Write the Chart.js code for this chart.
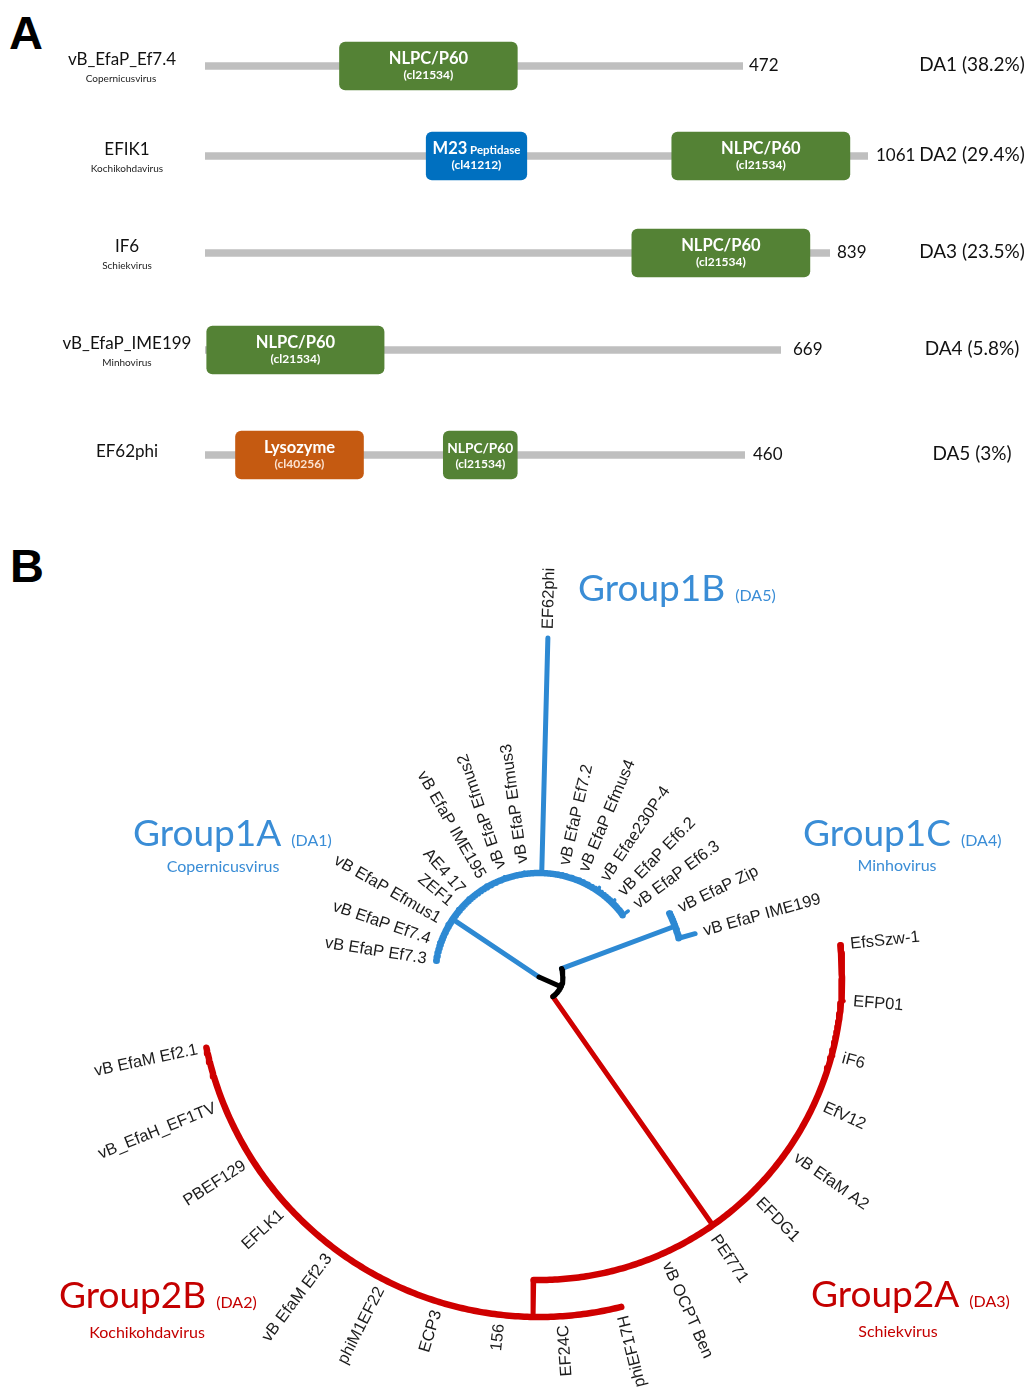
<!DOCTYPE html>
<html>
<head>
<meta charset="utf-8">
<title>Endolysin domain architectures and phylogeny</title>
<script src="https://cdn.jsdelivr.net/npm/chart.js@4.4.1/dist/chart.umd.min.js"></script>
<style>
  html, body { margin: 0; padding: 0; background: #ffffff; }
  #page { position: relative; width: 1028px; height: 1393px; overflow: hidden; background: #ffffff; }
  #page canvas { position: absolute; left: 0; }
  .panel-letter { position: absolute; font: bold 47px "Liberation Sans", Arial, sans-serif; line-height: 1; color: #000; }
</style>
</head>
<body>
<div id="page">
  <div class="panel-letter" style="left:9px; top:9px;">A</div>
  <div class="panel-letter" style="left:10px; top:542px;">B</div>
</div>
<script>
// ---------------- Panel A: domain architectures ----------------
const proteinNames = ['vB_EfaP_Ef7.4', 'EFIK1', 'IF6', 'vB_EfaP_IME199', 'EF62phi'];
const proteinGenera = ['Copernicusvirus', 'Kochikohdavirus', 'Schiekvirus', 'Minhovirus', ''];
const proteinLengths = [472, 1061, 839, 669, 460];
const architectureLabels = ['DA1 (38.2%)', 'DA2 (29.4%)', 'DA3 (23.5%)', 'DA4 (5.8%)', 'DA5 (3%)'];

// one entry per domain (residue coordinates)
const domainProtein = [0, 1, 1, 2, 3, 4, 4];
const domainNames = ['NLPC/P60', 'M23 Peptidase', 'NLPC/P60', 'NLPC/P60', 'NLPC/P60', 'Lysozyme', 'NLPC/P60'];
const domainAccessions = ['cl21534', 'cl41212', 'cl21534', 'cl21534', 'cl21534', 'cl40256', 'cl21534'];
const domainStart = [118, 354, 747, 573, 2, 26, 203];
const domainEnd = [274, 515, 1032, 812, 208, 135, 266];

// ---------------- Panel B: circular tree ----------------
// internal nodes: radius of the node and angle (deg, clockwise from east) of its stem
const nodeIds = ['root', 'core', 'g1A', 'g1C', 'g2', 'g2B'];
const nodeParent = [null, 'root', 'root', 'core', 'core', 'g2'];
const nodeRadius = [0, 24, 104, 145, 303, 340];
const nodeAngle = [0, 24, 213.8, -20.5, 55, 91];

const leafNames = [
  'vB EfaP Ef7.3', 'vB EfaP Ef7.4', 'vB EfaP Efmus1', 'ZEF1', 'AE4 17', 'vB EfaP IME195',
  'vB EfaP Efmus2', 'vB EfaP Efmus3', 'EF62phi', 'vB EfaP Ef7.2', 'vB EfaP Efmus4',
  'vB Efae230P-4', 'vB EfaP Ef6.2', 'vB EfaP Ef6.3',
  'vB EfaP Zip', 'vB EfaP IME199',
  'EfsSzw-1', 'EFP01', 'iF6', 'EfV12', 'vB EfaM A2', 'EFDG1', 'PEf771', 'vB OCPT Ben',
  'phiEF17H', 'EF24C', '156', 'ECP3', 'phiM1EF22', 'vB EfaM Ef2.3', 'EFLK1', 'PBEF129',
  'vB_EfaH_EF1TV', 'vB EfaM Ef2.1'
];
const leafParent = [
  'g1A', 'g1A', 'g1A', 'g1A', 'g1A', 'g1A', 'g1A', 'g1A', 'g1A', 'g1A', 'g1A', 'g1A', 'g1A', 'g1A',
  'g1C', 'g1C',
  'g2', 'g2', 'g2', 'g2', 'g2', 'g2', 'g2', 'g2',
  'g2B', 'g2B', 'g2B', 'g2B', 'g2B', 'g2B', 'g2B', 'g2B', 'g2B', 'g2B'
];
const leafAngle = [
  189, 199, 210, 220, 228, 240, 251, 262, 271.5, 283, 293, 304, 314.5, 323.5,
  -26, -15.5,
  -6, 4.5, 15, 24.5, 35, 45.5, 56, 66,
  76, 86, 96.5, 107, 117, 127, 137.5, 147.5, 158, 168
];
const leafRadius = [
  105, 106, 106, 106, 106, 106, 106, 106, 339, 106, 106, 108, 108, 111,
  147, 162,
  304, 306, 305, 304, 304, 304, 304, 304,
  340, 340, 340, 340, 340, 340, 340, 340, 340, 340
];

const groupTitles = ['Group1A', 'Group1B', 'Group1C', 'Group2A', 'Group2B'];
const groupArchitectures = ['(DA1)', '(DA5)', '(DA4)', '(DA3)', '(DA2)'];
const groupGenera = ['Copernicusvirus', '', 'Minhovirus', 'Schiekvirus', 'Kochikohdavirus'];

// ---------------- layout & style ----------------
const PAGE_W = 1028;
const ROW_H = 80;
const rowCenterY = [66, 156, 253, 350, 455];
const LINE_START_X = 205;
const rowLineEndX = [743, 868, 830, 781, 745];
const nameCenterX = [122, 127, 127, 127, 127];
const lengthLabelGap = [6, 8, 7, 12, 8];
const ARCH_CENTER_X = 972;
const CAL = 'Lato, "Open Sans", sans-serif';
const ARIAL = '"Liberation Sans", Arial, sans-serif';
const domainColors = { 'NLPC/P60': '#548235', 'M23 Peptidase': '#0070C0', 'Lysozyme': '#C55A11' };

const TREE_TOP = 540, TREE_H = 853;
const TREE_CX = 539, TREE_CY = 977;
const BLUE = '#2D89D3', RED = '#CF0000', BLACK = '#000000';
const TEXT_BLUE = '#3A8DD6', TEXT_RED = '#C40000';
const nodeColor = { root: BLACK, core: BLACK, g1A: BLUE, g1C: BLUE, g2: RED, g2B: RED };
const ARC_WIDTH = 6.5, STEM_WIDTH = 5, TIP_WIDTH = 3.5;
const LABEL_GAP = 9;
const FLIP_FROM = 70, FLIP_TO = 246;
const groupTitleX = [133, 578, 803, 811, 59];
const groupBaseline = [846, 601, 846, 1307, 1308];
const groupGenusX = [223, 0, 897, 898, 147];
const groupGenusBaseline = [872, 0, 871, 1337, 1338];
const groupColor = [TEXT_BLUE, TEXT_BLUE, TEXT_BLUE, TEXT_RED, TEXT_RED];

const page = document.getElementById('page');
function addCanvas(top, height) {
  const c = document.createElement('canvas');
  c.width = PAGE_W; c.height = height;
  c.style.top = top + 'px';
  c.style.width = PAGE_W + 'px'; c.style.height = height + 'px';
  page.appendChild(c);
  return c;
}

// ---- text drawn inside and around each architecture row ----
const rowTextPlugin = {
  id: 'rowText',
  afterDatasetsDraw(chart, args, opts) {
    const ctx = chart.ctx;
    const i = opts.row;
    const cy = chart.height / 2;
    ctx.save();
    chart.data.datasets.forEach((ds, d) => {
      if (ds.domainIndex === undefined) return;
      const el = chart.getDatasetMeta(d).data[0];
      const left = Math.min(el.x, el.base), right = Math.max(el.x, el.base);
      const w = right - left, mx = (left + right) / 2, my = el.y;
      const k = ds.domainIndex;
      const words = domainNames[k].split(' ');
      const head = words[0], tail = words.slice(1).join(' ');
      let big = 16.5, small = 11.5;
      ctx.font = `bold ${big}px ${CAL}`;
      let wHead = ctx.measureText(head).width;
      ctx.font = `bold ${small}px ${CAL}`;
      let wTail = tail ? ctx.measureText(' ' + tail).width : 0;
      const avail = w - 8;
      const s = Math.min(1, avail / (wHead + wTail));
      big *= s; small *= s; wHead *= s; wTail *= s;
      const x0 = mx - (wHead + wTail) / 2;
      ctx.fillStyle = '#ffffff';
      ctx.textAlign = 'left';
      ctx.textBaseline = 'alphabetic';
      ctx.font = `bold ${big}px ${CAL}`;
      ctx.fillText(head, x0, my - 2);
      if (tail) {
        ctx.font = `bold ${small}px ${CAL}`;
        ctx.fillText(' ' + tail, x0 + wHead, my - 2);
      }
      ctx.font = `bold 12px ${CAL}`;
      ctx.textAlign = 'center';
      ctx.fillStyle = domainNames[k] === 'Lysozyme' ? '#fbe3d2' : '#ffffff';
      ctx.fillText('(' + domainAccessions[k] + ')', mx, my + 13);
    });
    // protein name and genus
    ctx.fillStyle = '#111111';
    ctx.textAlign = 'center';
    ctx.textBaseline = 'alphabetic';
    ctx.font = `17px ${CAL}`;
    ctx.fillText(proteinNames[i], nameCenterX[i], cy + (proteinGenera[i] ? -1 : 2));
    if (proteinGenera[i]) {
      ctx.font = `10px ${CAL}`;
      ctx.fillStyle = '#222222';
      ctx.fillText(proteinGenera[i], nameCenterX[i] - (i === 0 ? 1 : 0), cy + 16);
    }
    // length and architecture labels
    const xs = chart.scales.x;
    ctx.fillStyle = '#111111';
    ctx.font = `17px ${CAL}`;
    ctx.textAlign = 'left';
    ctx.fillText(String(proteinLengths[i]), xs.getPixelForValue(proteinLengths[i]) + lengthLabelGap[i], cy + 5);
    ctx.font = `19px ${CAL}`;
    ctx.textAlign = 'center';
    ctx.fillText(architectureLabels[i], ARCH_CENTER_X, cy + 5);
    ctx.restore();
  }
};

proteinNames.forEach((name, i) => {
  const canvas = addCanvas(rowCenterY[i] - ROW_H / 2, ROW_H);
  const datasets = [];
  domainProtein.forEach((p, k) => {
    if (p !== i) return;
    datasets.push({
      label: domainNames[k],
      domainIndex: k,
      data: [[domainStart[k], domainEnd[k]]],
      backgroundColor: domainColors[domainNames[k]],
      barThickness: 48,
      borderRadius: 6,
      borderSkipped: false,
      grouped: false,
      order: 1
    });
  });
  datasets.push({
    label: 'protein',
    data: [[0, proteinLengths[i]]],
    backgroundColor: '#BFBFBF',
    barThickness: 7,
    borderRadius: 0,
    borderSkipped: false,
    grouped: false,
    order: 2
  });
  new Chart(canvas, {
    type: 'bar',
    data: { labels: [name], datasets },
    options: {
      indexAxis: 'y',
      responsive: false,
      animation: false,
      events: [],
      layout: { padding: { left: LINE_START_X, right: PAGE_W - rowLineEndX[i], top: 0, bottom: 0 } },
      scales: {
        x: { type: 'linear', min: 0, max: proteinLengths[i], display: false },
        y: { display: false }
      },
      plugins: { legend: { display: false }, tooltip: { enabled: false }, rowText: { row: i } }
    },
    plugins: [rowTextPlugin]
  });
});

// ---------------- tree geometry ----------------
const rad = a => a * Math.PI / 180;
const polar = (r, a) => ({ x: r * Math.cos(rad(a)), y: r * Math.sin(rad(a)) });
function arcPoints(r, a0, a1) {
  const n = Math.max(2, Math.ceil(Math.abs(a1 - a0) * 2) + 1);
  const pts = [];
  for (let j = 0; j < n; j++) pts.push(polar(r, a0 + (a1 - a0) * j / (n - 1)));
  return pts;
}
const nodeIndex = id => nodeIds.indexOf(id);

function lineDataset(points, color, width, order) {
  return {
    data: points, showLine: true, borderColor: color, backgroundColor: color,
    borderWidth: width, pointRadius: 0, borderCapStyle: 'round', borderJoinStyle: 'round',
    tension: 0, order
  };
}

const treeDatasets = [];
nodeIds.forEach((id, n) => {
  const color = nodeColor[id];
  const ord = color === BLACK ? 0 : 1;
  // stem from the parent's arc out to this node
  if (nodeParent[n]) {
    const pr = nodeRadius[nodeIndex(nodeParent[n])];
    treeDatasets.push(lineDataset([polar(pr, nodeAngle[n]), polar(nodeRadius[n], nodeAngle[n])], color, STEM_WIDTH, ord));
  }
  // arc joining the children of this node
  if (nodeRadius[n] > 0) {
    const childAngles = [];
    leafParent.forEach((p, l) => { if (p === id) childAngles.push(leafAngle[l]); });
    nodeParent.forEach((p, c) => { if (p === id) childAngles.push(nodeAngle[c]); });
    if (childAngles.length > 1) {
      treeDatasets.push(lineDataset(arcPoints(nodeRadius[n], Math.min(...childAngles), Math.max(...childAngles)), color, id === 'core' ? STEM_WIDTH : ARC_WIDTH, ord));
    }
  }
});
leafNames.forEach((name, l) => {
  const pn = nodeIndex(leafParent[l]);
  const r0 = nodeRadius[pn];
  if (leafRadius[l] > r0) {
    treeDatasets.push(lineDataset([polar(r0, leafAngle[l]), polar(leafRadius[l], leafAngle[l])], nodeColor[leafParent[l]], leafRadius[l] - r0 > 12 ? STEM_WIDTH : TIP_WIDTH, 1));
  }
});

const leafLabelPlugin = {
  id: 'leafLabels',
  afterDatasetsDraw(chart) {
    const { ctx } = chart;
    const xs = chart.scales.x, ys = chart.scales.y;
    ctx.save();
    ctx.font = `16.5px ${ARIAL}`;
    ctx.fillStyle = '#1c1c1c';
    ctx.textBaseline = 'middle';
    leafNames.forEach((name, l) => {
      const a = leafAngle[l];
      const p = polar(leafRadius[l] + LABEL_GAP, a);
      const norm = ((a % 360) + 360) % 360;
      const flip = norm > FLIP_FROM && norm < FLIP_TO;
      ctx.save();
      ctx.translate(xs.getPixelForValue(p.x), ys.getPixelForValue(p.y));
      ctx.rotate(rad(flip ? a + 180 : a));
      ctx.textAlign = flip ? 'right' : 'left';
      ctx.fillText(name, 0, 0);
      ctx.restore();
    });
    // clade titles
    groupTitles.forEach((title, g) => {
      const by = groupBaseline[g] - TREE_TOP;
      ctx.fillStyle = groupColor[g];
      ctx.textAlign = 'left';
      ctx.textBaseline = 'alphabetic';
      ctx.font = `37px ${CAL}`;
      ctx.fillText(title, groupTitleX[g], by);
      const tw = ctx.measureText(title).width;
      ctx.font = `16px ${CAL}`;
      ctx.fillText(groupArchitectures[g], groupTitleX[g] + tw + 10, by);
      if (groupGenera[g]) {
        ctx.font = `16px ${CAL}`;
        ctx.textAlign = 'center';
        ctx.fillText(groupGenera[g], groupGenusX[g], groupGenusBaseline[g] - TREE_TOP);
      }
    });
    ctx.restore();
  }
};

const treeCanvas = addCanvas(TREE_TOP, TREE_H);
new Chart(treeCanvas, {
  type: 'scatter',
  data: { datasets: treeDatasets },
  options: {
    responsive: false,
    animation: false,
    events: [],
    layout: { padding: 0 },
    scales: {
      x: { type: 'linear', min: -TREE_CX, max: PAGE_W - TREE_CX, display: false },
      y: { type: 'linear', reverse: true, min: TREE_TOP - TREE_CY, max: TREE_TOP + TREE_H - TREE_CY, display: false }
    },
    plugins: { legend: { display: false }, tooltip: { enabled: false } }
  },
  plugins: [leafLabelPlugin]
});
</script>
</body>
</html>
